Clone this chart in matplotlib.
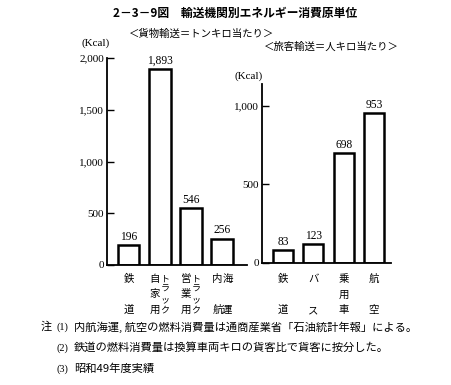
import matplotlib.pyplot as plt
from matplotlib import transforms

plt.rcParams["font.family"] = ["Noto Sans CJK JP", "DejaVu Sans"]

# freight: kcal per ton-km
freight_vals = [196, 1893, 546, 256]
freight_labels = [[("鉄", "", "道")],
                  [("自", "家", "用"), ("ト", "ラ", "ッ", "ク")],
                  [("営", "業", "用"), ("ト", "ラ", "ッ", "ク")],
                  [("内", "", "航"), ("海", "", "運")]]
freight_ticks = [0, 500, 1000, 1500, 2000]
freight_ticklabels = ["0", "500", "1,000", "1,500", "2,000"]

# passenger: kcal per person-km
pass_vals = [83, 123, 698, 953]
pass_labels = [[("鉄", "", "道")], [("バ", "", "ス")], [("乗", "用", "車")], [("航", "", "空")]]
pass_ticks = [0, 500, 1000]
pass_ticklabels = ["0", "500", "1,000"]

notes = ["内航海運, 航空の燃料消費量は通商産業省「石油統計年報」による。",
         "鉄道の燃料消費量は換算車両キロの貨客比で貨客に按分した。",
         "昭和49年度実績"]

W, H = 452, 385
fig = plt.figure(figsize=(4.52, 3.85), dpi=100)
num_font = "Liberation Serif"


def px(x, y):
    return x / W, 1 - y / H


def panel(rect, vals, labels, ticks, ticklabels, ylim, xlim, width, col_dx):
    ax = fig.add_axes(rect)
    ax.bar(range(len(vals)), vals, width=width, facecolor="white",
           edgecolor="black", linewidth=1.8)
    for i, v in enumerate(vals):
        ax.annotate(f"{v:,}", (i, v), xytext=(0, 1.5), textcoords="offset points",
                    ha="center", va="bottom", fontsize=8.3, family=num_font)
    ax.set_ylim(*ylim)
    ax.set_xlim(*xlim)
    ax.set_yticks(ticks)
    ax.set_yticklabels(ticklabels, family=num_font, fontsize=8)
    ax.set_xticks([])
    ax.tick_params(axis="y", direction="in", length=5, width=1, pad=2)
    for s in ["top", "right"]:
        ax.spines[s].set_visible(False)
    for s in ["left", "bottom"]:
        ax.spines[s].set_linewidth(1.3)
    # vertical category labels
    tr = transforms.blended_transform_factory(ax.transData, fig.transFigure)
    y_top, y_bot = 1 - 279 / H, 1 - 310 / H
    for i, cols in enumerate(labels):
        n = len(cols)
        for j, col in enumerate(cols):
            x = i + (j - (n - 1) / 2) * col_dx
            m = len(col)
            for k, ch in enumerate(col):
                y = y_top + (y_bot - y_top) * k / (m - 1)
                fs = 6.5 if m == 4 else 7.5
                ax.text(x, y, ch, transform=tr, ha="center", va="center", fontsize=fs)
    return ax


panel([107 / W, 1 - 265 / H, 140 / W, 207 / H], freight_vals, freight_labels,
      freight_ticks, freight_ticklabels, (0, 2000), (-0.69, 3.79), 0.70, 0.32)
panel([262 / W, 1 - 263 / H, 129 / W, 179 / H], pass_vals, pass_labels,
      pass_ticks, pass_ticklabels, (0, 1140), (-0.69, 3.56), 0.66, 0.32)

fig.text(*px(235, 13), "2－3－9図　輸送機関別エネルギー消費原単位", ha="center", va="center",
         fontsize=8.5, weight="bold")
fig.text(*px(202, 34), "＜貨物輸送＝トンキロ当たり＞", ha="center", va="center", fontsize=7.5)
fig.text(*px(331, 47), "＜旅客輸送＝人キロ当たり＞", ha="center", va="center", fontsize=7.5)
fig.text(*px(96, 43), "(Kcal)", ha="center", va="center", fontsize=8, family=num_font)
fig.text(*px(249, 76), "(Kcal)", ha="center", va="center", fontsize=8, family=num_font)

fig.text(*px(46, 327), "注", ha="center", va="center", fontsize=8)
for i, note in enumerate(notes):
    y = [327, 348, 369][i]
    fig.text(*px(62, y), f"({i + 1})", ha="center", va="center", fontsize=7.5, family=num_font)
    fig.text(*px(74, y), note, ha="left", va="center", fontsize=8.1)

fig.savefig("out.png", dpi=100)
